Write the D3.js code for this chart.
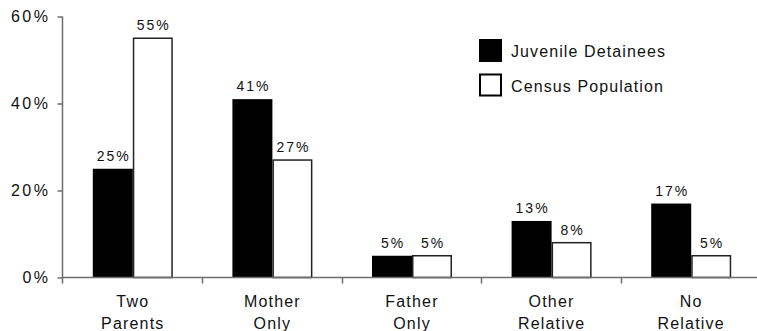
<!DOCTYPE html>
<html>
<head>
<meta charset="utf-8">
<script src="https://cdn.jsdelivr.net/npm/d3@7"></script>
<style>
  html, body { margin: 0; padding: 0; background: #fff; }
  svg { display: block; font-family: "Liberation Sans", Arial, Helvetica, sans-serif; }
</style>
</head>
<body>
<svg id="chart" width="757" height="331"></svg>
<script>
// Living arrangements: juvenile detainees vs. census population (percent)
const categories = [["Two", "Parents"], ["Mother", "Only"], ["Father", "Only"], ["Other", "Relative"], ["No", "Relative"]];
const detainees = [25, 41, 5, 13, 17];
const census = [55, 27, 5, 8, 5];
const seriesNames = ["Juvenile Detainees", "Census Population"];
const yTicks = [0, 20, 40, 60];

const svg = d3.select("#chart");
const x0 = 62.5, y0 = 277.5, yTop = 16.5;
const step = 139.6;
const keys = categories.map(c => c.join(" "));

const x = d3.scaleBand().domain(keys).range([x0, x0 + step * keys.length]).padding(0);
const y = d3.scaleLinear().domain([0, 60]).range([y0, yTop]);
const barW = 40;
const axisColor = "#6e6e6e";

// Bars
const groups = svg.append("g").selectAll("g")
  .data(keys.map((k, i) => ({ k, d: detainees[i], c: census[i] })))
  .join("g")
  .attr("transform", d => `translate(${x(d.k) + x.bandwidth() / 2 + 0.5},0)`);

groups.append("rect")
  .attr("x", -barW).attr("width", barW)
  .attr("y", d => y(d.d)).attr("height", d => y0 - y(d.d))
  .attr("fill", "#000");

groups.append("rect")
  .attr("x", 0.75).attr("width", barW - 1.5)
  .attr("y", d => y(d.c)).attr("height", d => y0 - y(d.c))
  .attr("fill", "#fff").attr("stroke", "#222").attr("stroke-width", 1.5);

// Value labels above bars
const valueLabel = sel => sel
  .attr("text-anchor", "middle")
  .attr("font-size", 14)
  .attr("letter-spacing", "2px")
  .attr("fill", "#111");

groups.append("text").call(valueLabel)
  .attr("x", -barW / 2 + 1).attr("y", d => y(d.d) - 8)
  .text(d => d.d + "%");
groups.append("text").call(valueLabel)
  .attr("x", barW / 2 + 1).attr("y", d => y(d.c) - 8)
  .text(d => d.c + "%");

// Y axis
const yAxis = svg.append("g").attr("transform", `translate(${x0},0)`)
  .call(d3.axisLeft(y).tickValues(yTicks).tickFormat(d => d + "%").tickSize(5).tickPadding(7));
yAxis.select(".domain").attr("d", `M0,${yTop}V${y0 + 6}`);

// X axis with ticks at the category boundaries
const xAxis = svg.append("g").attr("transform", `translate(0,${y0})`);
xAxis.append("line")
  .attr("x1", x0).attr("x2", 757 + 5)
  .attr("stroke", axisColor).attr("stroke-width", 1.5);
xAxis.selectAll("line.tick")
  .data(keys.slice(1))
  .join("line").attr("class", "tick")
  .attr("x1", d => Math.round(x(d)) + 0.5).attr("x2", d => Math.round(x(d)) + 0.5)
  .attr("y1", 0).attr("y2", 6)
  .attr("stroke", axisColor).attr("stroke-width", 1.5);

const catText = xAxis.selectAll("text")
  .data(categories)
  .join("text")
  .attr("text-anchor", "middle")
  .attr("font-size", 16)
  .attr("letter-spacing", "1.2px")
  .attr("fill", "#111")
  .attr("x", (d, i) => x(keys[i]) + x.bandwidth() / 2 + 0.5);
catText.append("tspan").attr("x", function () { return this.parentNode.getAttribute("x"); })
  .attr("y", 29.5).text(d => d[0]);
catText.append("tspan").attr("x", function () { return this.parentNode.getAttribute("x"); })
  .attr("y", 51).text(d => d[1]);

yAxis.selectAll("path, line").attr("stroke", axisColor).attr("stroke-width", 1.5);
yAxis.selectAll("text")
  .attr("font-size", 16)
  .attr("letter-spacing", "2.5px")
  .attr("fill", "#111")
  .attr("font-family", null);

// Legend
const legend = svg.append("g").attr("transform", "translate(479,39)");
const li = legend.selectAll("g").data(seriesNames).join("g")
  .attr("transform", (d, i) => `translate(0,${i * 34.5})`);
li.append("rect")
  .attr("x", (d, i) => i ? 1 : 0).attr("y", (d, i) => i ? 1 : 0)
  .attr("width", (d, i) => i ? 21 : 23).attr("height", (d, i) => i ? 21 : 23)
  .attr("fill", (d, i) => i ? "#fff" : "#000")
  .attr("stroke", (d, i) => i ? "#000" : "none")
  .attr("stroke-width", 2);
li.append("text")
  .attr("x", 32).attr("y", 18)
  .attr("font-size", 16)
  .attr("letter-spacing", "1.1px")
  .attr("fill", "#111")
  .text(d => d);
</script>
</body>
</html>
